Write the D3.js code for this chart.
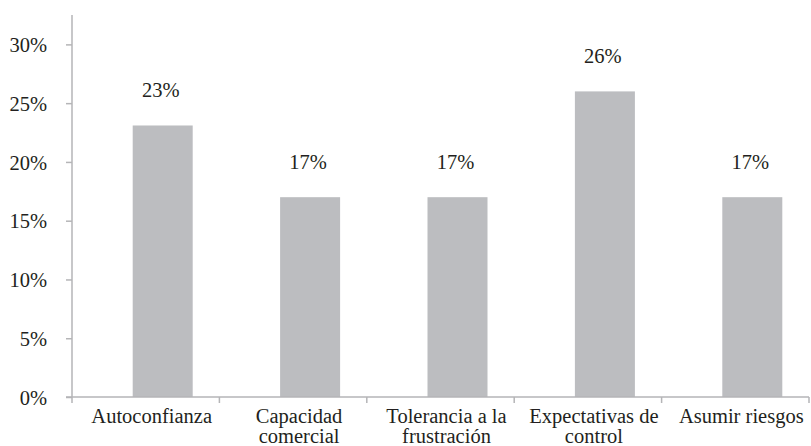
<!DOCTYPE html>
<html>
<head>
<meta charset="utf-8">
<script src="https://cdn.jsdelivr.net/npm/d3@7"></script>
<style>
  body { margin: 0; background: #fff; }
</style>
</head>
<body>
<script>
const categories = [['Autoconfianza'], ['Capacidad', 'comercial'], ['Tolerancia a la', 'frustración'], ['Expectativas de', 'control'], ['Asumir riesgos']];
const values = [23.1, 17, 17, 26, 17];
const value_labels = ['23%', '17%', '17%', '26%', '17%'];
const y_ticks = [0, 5, 10, 15, 20, 25, 30];

const svg_width = 811;
const svg_height = 446;
const bar_width = 60;
const bar_shift = 17;
const label_shift = 6;
const font_size = 20.5;
const font = "'Liberation Serif'";
const text_color = '#231f20';
const axis_color = '#b5b5b7';
const bar_color = '#bcbdc0';

const svg = d3.select('body')
    .append('svg')
    .attr('width', svg_width)
    .attr('height', svg_height)
    .attr('font-family', font);

const x = d3.scaleBand()
    .domain(d3.range(categories.length))
    .range([72, 809]);

const y = d3.scaleLinear()
    .domain([0, 32.5])
    .range([397, 15]);

// bars
svg.append('g')
    .selectAll('rect')
    .data(values)
    .enter()
    .append('rect')
    .attr('x', (d, i) => x(i) + x.bandwidth() / 2 + bar_shift - bar_width / 2)
    .attr('y', d => y(d))
    .attr('width', bar_width)
    .attr('height', d => y(0) - y(d))
    .attr('fill', bar_color);

// value labels
svg.append('g')
    .selectAll('text')
    .data(values)
    .enter()
    .append('text')
    .attr('text-anchor', 'middle')
    .attr('font-family', font)
    .attr('font-size', font_size)
    .attr('fill', text_color)
    .attr('x', (d, i) => x(i) + x.bandwidth() / 2 + bar_shift - 2)
    .attr('y', d => y(d) - 28)
    .text((d, i) => value_labels[i]);

// y axis
const y_axis = svg.append('g')
    .attr('transform', `translate(${x.range()[0]},0)`)
    .call(d3.axisLeft(y).tickValues(y_ticks).tickSize(6).tickPadding(19).tickFormat(d => d + '%'))
    .attr('font-family', font);
y_axis.select('.domain').attr('stroke', axis_color).attr('stroke-width', 1.5).attr('d', `M0,${y(0)}V${y.range()[1]}`);
y_axis.selectAll('.tick line').attr('stroke', axis_color).attr('stroke-width', 1.5);
y_axis.selectAll('.tick text')
    .attr('font-size', font_size)
    .attr('font-family', font)
    .attr('fill', text_color)
    .attr('dy', '0.35em');

// x axis
const x_axis = svg.append('g').attr('transform', `translate(0,${y(0)})`);
x_axis.append('line')
    .attr('x1', 66)
    .attr('x2', x.range()[1])
    .attr('stroke', axis_color)
    .attr('stroke-width', 1.5);
const bounds = d3.range(categories.length + 1).map(i => i < categories.length ? x(i) : x.range()[1]);
x_axis.selectAll('.xtick')
    .data(bounds)
    .enter()
    .append('line')
    .attr('class', 'xtick')
    .attr('x1', d => d)
    .attr('x2', d => d)
    .attr('y1', 0)
    .attr('y2', 6)
    .attr('stroke', axis_color)
    .attr('stroke-width', 1.5);

// category labels, one text per line
categories.forEach((lines, i) => {
    lines.forEach((line, j) => {
        x_axis.append('text')
            .attr('class', 'xlabel')
            .attr('text-anchor', 'middle')
            .attr('font-family', font)
            .attr('font-size', font_size)
            .attr('fill', text_color)
            .attr('x', x(i) + x.bandwidth() / 2 + label_shift)
            .attr('y', 26 + j * 20)
            .text(line);
    });
});
</script>
</body>
</html>
